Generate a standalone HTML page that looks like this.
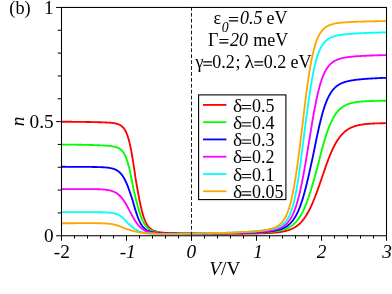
<!DOCTYPE html>
<html><head><meta charset="utf-8"><style>
html,body{margin:0;padding:0;background:#fff;}
svg{display:block;will-change:transform}
text{font-family:"Liberation Serif",serif;fill:#000;}
.t{font-size:18px}
.l{font-size:18px}
.a{font-size:19.3px}
.i{font-style:italic}
</style></head><body>
<svg width="392" height="294" viewBox="0 0 392 294">
<rect width="392" height="294" fill="#fff"/>
<g>
<polyline points="61.50,121.71 62.00,121.71 62.50,121.72 63.00,121.72 63.50,121.72 64.00,121.73 64.50,121.73 65.00,121.73 65.50,121.74 66.00,121.74 66.50,121.75 67.00,121.75 67.50,121.75 68.00,121.76 68.50,121.76 69.00,121.77 69.50,121.77 70.00,121.77 70.50,121.78 71.00,121.78 71.50,121.79 72.00,121.79 72.50,121.80 73.00,121.80 73.50,121.80 74.00,121.81 74.50,121.81 75.00,121.82 75.50,121.82 76.00,121.83 76.50,121.83 77.00,121.84 77.50,121.84 78.00,121.85 78.50,121.86 79.00,121.86 79.50,121.87 80.00,121.87 80.50,121.88 81.00,121.89 81.50,121.89 82.00,121.90 82.50,121.90 83.00,121.91 83.50,121.92 84.00,121.92 84.50,121.93 85.00,121.94 85.50,121.95 86.00,121.95 86.50,121.96 87.00,121.97 87.50,121.98 88.00,121.99 88.50,121.99 89.00,122.00 89.50,122.01 90.00,122.02 90.50,122.03 91.00,122.04 91.50,122.05 92.00,122.06 92.50,122.07 93.00,122.08 93.50,122.09 94.00,122.10 94.50,122.11 95.00,122.12 95.50,122.13 96.00,122.14 96.50,122.16 97.00,122.17 97.50,122.18 98.00,122.20 98.50,122.21 99.00,122.22 99.50,122.24 100.00,122.25 100.50,122.27 101.00,122.28 101.50,122.30 102.00,122.32 102.50,122.34 103.00,122.36 103.50,122.37 104.00,122.40 104.50,122.42 105.00,122.44 105.50,122.46 106.00,122.49 106.50,122.51 107.00,122.54 107.50,122.57 108.00,122.60 108.50,122.63 109.00,122.67 109.50,122.70 110.00,122.74 110.50,122.78 111.00,122.83 111.50,122.88 112.00,122.93 112.50,122.99 113.00,123.05 113.50,123.12 114.00,123.20 114.50,123.28 115.00,123.37 115.50,123.47 116.00,123.58 116.50,123.70 117.00,123.83 117.50,123.98 118.00,124.15 118.50,124.33 119.00,124.54 119.50,124.77 120.00,125.03 120.50,125.32 121.00,125.64 121.50,126.00 122.00,126.41 122.50,126.86 123.00,127.37 123.50,127.94 124.00,128.58 124.50,129.30 125.00,130.10 125.50,130.99 126.00,131.99 126.50,133.10 127.00,134.33 127.50,135.69 128.00,137.19 128.50,138.84 129.00,140.65 129.50,142.63 130.00,144.77 130.50,147.08 131.00,149.57 131.50,152.22 132.00,155.03 132.50,157.98 133.00,161.08 133.50,164.29 134.00,167.60 134.50,170.98 135.00,174.42 135.50,177.88 136.00,180.82 136.50,183.73 137.00,186.62 137.50,189.47 138.00,192.27 138.50,195.00 139.00,197.65 139.50,200.21 140.00,202.67 140.50,205.01 141.00,207.24 141.50,209.34 142.00,211.31 142.50,213.15 143.00,214.87 143.50,216.46 144.00,217.93 144.50,219.28 145.00,220.53 145.50,221.66 146.00,222.70 146.50,223.65 147.00,224.51 147.50,225.30 148.00,226.01 148.50,226.65 149.00,227.24 149.50,227.77 150.00,228.25 150.50,228.68 151.00,229.08 151.50,229.43 152.00,229.76 152.50,230.05 153.00,230.31 153.50,230.55 154.00,230.77 154.50,230.97 155.00,231.15 155.50,231.32 156.00,231.47 156.50,231.61 157.00,231.73 157.50,231.85 158.00,231.95 158.50,232.05 159.00,232.14 159.50,232.22 160.00,232.30 160.50,232.37 161.00,232.44 161.50,232.50 162.00,232.56 162.50,232.61 163.00,232.66 163.50,232.71 164.00,232.75 164.50,232.79 165.00,232.83 165.50,232.87 166.00,232.90 166.50,232.94 167.00,232.97 167.50,233.00 168.00,233.03 168.50,233.05 169.00,233.08 169.50,233.10 170.00,233.13 170.50,233.15 171.00,233.17 171.50,233.20 172.00,233.22 172.50,233.24 173.00,233.25 173.50,233.27 174.00,233.29 174.50,233.31 175.00,233.32 175.50,233.34 176.00,233.36 176.50,233.37 177.00,233.39 177.50,233.40 178.00,233.41 178.50,233.43 179.00,233.44 179.50,233.45 180.00,233.46 180.50,233.48 181.00,233.49 181.50,233.50 182.00,233.51 182.50,233.52 183.00,233.53 183.50,233.54 184.00,233.55 184.50,233.56 185.00,233.57 185.50,233.58 186.00,233.59 186.50,233.60 187.00,233.60 187.50,233.61 188.00,233.62 188.50,233.63 189.00,233.64 189.50,233.64 190.00,233.65 190.50,233.66 191.00,233.66 191.50,233.67 192.00,233.68 192.50,233.68 193.00,233.69 193.50,233.69 194.00,233.70 194.50,233.71 195.00,233.71 195.50,233.72 196.00,233.72 196.50,233.73 197.00,233.73 197.50,233.74 198.00,233.74 198.50,233.75 199.00,233.75 199.50,233.75 200.00,233.76 200.50,233.76 201.00,233.76 201.50,233.77 202.00,233.77 202.50,233.78 203.00,233.78 203.50,233.78 204.00,233.78 204.50,233.79 205.00,233.79 205.50,233.79 206.00,233.80 206.50,233.80 207.00,233.80 207.50,233.80 208.00,233.80 208.50,233.81 209.00,233.81 209.50,233.81 210.00,233.81 210.50,233.81 211.00,233.81 211.50,233.82 212.00,233.82 212.50,233.82 213.00,233.82 213.50,233.82 214.00,233.82 214.50,233.82 215.00,233.82 215.50,233.82 216.00,233.82 216.50,233.82 217.00,233.82 217.50,233.82 218.00,233.82 218.50,233.82 219.00,233.82 219.50,233.82 220.00,233.82 220.50,233.82 221.00,233.82 221.50,233.82 222.00,233.82 222.50,233.82 223.00,233.82 223.50,233.82 224.00,233.82 224.50,233.82 225.00,233.82 225.50,233.82 226.00,233.81 226.50,233.81 227.00,233.81 227.50,233.81 228.00,233.81 228.50,233.81 229.00,233.80 229.50,233.80 230.00,233.80 230.50,233.80 231.00,233.80 231.50,233.79 232.00,233.79 232.50,233.79 233.00,233.79 233.50,233.78 234.00,233.78 234.50,233.78 235.00,233.77 235.50,233.77 236.00,233.77 236.50,233.76 237.00,233.76 237.50,233.76 238.00,233.75 238.50,233.75 239.00,233.74 239.50,233.74 240.00,233.74 240.50,233.73 241.00,233.73 241.50,233.72 242.00,233.72 242.50,233.71 243.00,233.71 243.50,233.70 244.00,233.70 244.50,233.69 245.00,233.69 245.50,233.68 246.00,233.67 246.50,233.67 247.00,233.66 247.50,233.65 248.00,233.65 248.50,233.64 249.00,233.63 249.50,233.63 250.00,233.62 250.50,233.61 251.00,233.60 251.50,233.59 252.00,233.59 252.50,233.58 253.00,233.57 253.50,233.56 254.00,233.55 254.50,233.54 255.00,233.53 255.50,233.52 256.00,233.51 256.50,233.50 257.00,233.48 257.50,233.47 258.00,233.46 258.50,233.45 259.00,233.43 259.50,233.42 260.00,233.41 260.50,233.39 261.00,233.38 261.50,233.36 262.00,233.35 262.50,233.33 263.00,233.31 263.50,233.29 264.00,233.27 264.50,233.26 265.00,233.24 265.50,233.21 266.00,233.19 266.50,233.17 267.00,233.15 267.50,233.12 268.00,233.10 268.50,233.07 269.00,233.05 269.50,233.02 270.00,232.99 270.50,232.96 271.00,232.92 271.50,232.89 272.00,232.86 272.50,232.82 273.00,232.78 273.50,232.74 274.00,232.70 274.50,232.66 275.00,232.61 275.50,232.57 276.00,232.52 276.50,232.47 277.00,232.41 277.50,232.36 278.00,232.30 278.50,232.24 279.00,232.17 279.50,232.10 280.00,232.03 280.50,231.96 281.00,231.88 281.50,231.80 282.00,231.72 282.50,231.63 283.00,231.53 283.50,231.43 284.00,231.33 284.50,231.22 285.00,231.11 285.50,230.99 286.00,230.87 286.50,230.74 287.00,230.60 287.50,230.45 288.00,230.30 288.50,230.14 289.00,229.98 289.50,229.80 290.00,229.62 290.50,229.43 291.00,229.22 291.50,229.01 292.00,228.79 292.50,228.55 293.00,228.31 293.50,228.05 294.00,227.78 294.50,227.50 295.00,227.20 295.50,226.89 296.00,226.56 296.50,226.22 297.00,225.86 297.50,225.48 298.00,225.09 298.50,224.68 299.00,224.25 299.50,223.80 300.00,223.33 300.50,222.83 301.00,222.32 301.50,221.78 302.00,221.22 302.50,220.64 303.00,220.03 303.50,219.39 304.00,218.73 304.50,218.04 305.00,217.33 305.50,216.59 306.00,215.82 306.50,215.02 307.00,214.19 307.50,213.33 308.00,212.44 308.50,211.52 309.00,210.57 309.50,209.60 310.00,208.59 310.50,207.55 311.00,206.49 311.50,205.39 312.00,204.27 312.50,203.12 313.00,201.94 313.50,200.73 314.00,199.50 314.50,198.25 315.00,196.97 315.50,195.68 316.00,194.36 316.50,193.02 317.00,191.67 317.50,190.29 318.00,188.91 318.50,187.51 319.00,186.10 319.50,184.69 320.00,183.26 320.50,181.83 321.00,180.40 321.50,178.96 322.00,177.47 322.50,175.99 323.00,174.51 323.50,173.03 324.00,171.56 324.50,170.11 325.00,168.66 325.50,167.23 326.00,165.81 326.50,164.42 327.00,163.04 327.50,161.68 328.00,160.34 328.50,159.03 329.00,157.74 329.50,156.47 330.00,155.24 330.50,154.03 331.00,152.85 331.50,151.69 332.00,150.57 332.50,149.48 333.00,148.42 333.50,147.38 334.00,146.38 334.50,145.41 335.00,144.47 335.50,143.56 336.00,142.68 336.50,141.84 337.00,141.02 337.50,140.23 338.00,139.46 338.50,138.73 339.00,138.03 339.50,137.35 340.00,136.70 340.50,136.07 341.00,135.47 341.50,134.90 342.00,134.34 342.50,133.81 343.00,133.31 343.50,132.82 344.00,132.36 344.50,131.92 345.00,131.49 345.50,131.09 346.00,130.70 346.50,130.33 347.00,129.98 347.50,129.64 348.00,129.32 348.50,129.02 349.00,128.73 349.50,128.45 350.00,128.18 350.50,127.93 351.00,127.69 351.50,127.46 352.00,127.24 352.50,127.04 353.00,126.84 353.50,126.65 354.00,126.47 354.50,126.30 355.00,126.14 355.50,125.99 356.00,125.84 356.50,125.70 357.00,125.57 357.50,125.45 358.00,125.33 358.50,125.21 359.00,125.11 359.50,125.00 360.00,124.91 360.50,124.81 361.00,124.73 361.50,124.64 362.00,124.56 362.50,124.49 363.00,124.42 363.50,124.35 364.00,124.28 364.50,124.22 365.00,124.16 365.50,124.11 366.00,124.06 366.50,124.01 367.00,123.96 367.50,123.91 368.00,123.87 368.50,123.83 369.00,123.79 369.50,123.75 370.00,123.72 370.50,123.68 371.00,123.65 371.50,123.62 372.00,123.59 372.50,123.57 373.00,123.54 373.50,123.52 374.00,123.49 374.50,123.47 375.00,123.45 375.50,123.43 376.00,123.41 376.50,123.39 377.00,123.37 377.50,123.36 378.00,123.34 378.50,123.33 379.00,123.31 379.50,123.30 380.00,123.28 380.50,123.27 381.00,123.26 381.50,123.25 382.00,123.24 382.50,123.23 383.00,123.22 383.50,123.21 384.00,123.20 384.50,123.19 385.00,123.18 385.50,123.18 386.00,123.17 386.50,123.16" fill="none" stroke="#ff0000" stroke-width="1.85" stroke-linejoin="round"/>
<polyline points="61.50,144.54 62.00,144.54 62.50,144.55 63.00,144.55 63.50,144.56 64.00,144.56 64.50,144.57 65.00,144.57 65.50,144.58 66.00,144.58 66.50,144.59 67.00,144.59 67.50,144.60 68.00,144.60 68.50,144.61 69.00,144.61 69.50,144.62 70.00,144.62 70.50,144.63 71.00,144.64 71.50,144.64 72.00,144.65 72.50,144.66 73.00,144.66 73.50,144.67 74.00,144.68 74.50,144.68 75.00,144.69 75.50,144.70 76.00,144.70 76.50,144.71 77.00,144.72 77.50,144.73 78.00,144.73 78.50,144.74 79.00,144.75 79.50,144.76 80.00,144.77 80.50,144.77 81.00,144.78 81.50,144.79 82.00,144.80 82.50,144.81 83.00,144.82 83.50,144.83 84.00,144.84 84.50,144.85 85.00,144.86 85.50,144.87 86.00,144.88 86.50,144.89 87.00,144.90 87.50,144.92 88.00,144.93 88.50,144.94 89.00,144.95 89.50,144.96 90.00,144.98 90.50,144.99 91.00,145.00 91.50,145.02 92.00,145.03 92.50,145.04 93.00,145.06 93.50,145.07 94.00,145.09 94.50,145.11 95.00,145.12 95.50,145.14 96.00,145.16 96.50,145.17 97.00,145.19 97.50,145.21 98.00,145.23 98.50,145.25 99.00,145.27 99.50,145.29 100.00,145.31 100.50,145.34 101.00,145.36 101.50,145.38 102.00,145.41 102.50,145.43 103.00,145.46 103.50,145.49 104.00,145.52 104.50,145.55 105.00,145.58 105.50,145.61 106.00,145.65 106.50,145.68 107.00,145.72 107.50,145.76 108.00,145.81 108.50,145.85 109.00,145.90 109.50,145.95 110.00,146.01 110.50,146.07 111.00,146.13 111.50,146.20 112.00,146.27 112.50,146.35 113.00,146.43 113.50,146.53 114.00,146.63 114.50,146.74 115.00,146.86 115.50,146.99 116.00,147.14 116.50,147.30 117.00,147.48 117.50,147.67 118.00,147.89 118.50,148.13 119.00,148.40 119.50,148.70 120.00,149.04 120.50,149.41 121.00,149.83 121.50,150.29 122.00,150.81 122.50,151.38 123.00,152.02 123.50,152.74 124.00,153.53 124.50,154.41 125.00,155.38 125.50,156.46 126.00,157.64 126.50,158.94 127.00,160.36 127.50,161.90 128.00,163.58 128.50,165.38 129.00,167.32 129.50,169.38 130.00,171.56 130.50,173.86 131.00,176.25 131.50,178.74 132.00,181.29 132.50,183.90 133.00,186.55 133.50,189.19 134.00,191.29 134.50,193.38 135.00,195.46 135.50,197.52 136.00,199.54 136.50,201.53 137.00,203.48 137.50,205.37 138.00,207.20 138.50,208.97 139.00,210.66 139.50,212.28 140.00,213.82 140.50,215.28 141.00,216.66 141.50,217.95 142.00,219.16 142.50,220.29 143.00,221.34 143.50,222.32 144.00,223.22 144.50,224.06 145.00,224.83 145.50,225.54 146.00,226.19 146.50,226.79 147.00,227.34 147.50,227.84 148.00,228.30 148.50,228.73 149.00,229.11 149.50,229.47 150.00,229.79 150.50,230.08 151.00,230.35 151.50,230.60 152.00,230.82 152.50,231.03 153.00,231.22 153.50,231.39 154.00,231.54 154.50,231.69 155.00,231.82 155.50,231.94 156.00,232.05 156.50,232.15 157.00,232.24 157.50,232.33 158.00,232.41 158.50,232.48 159.00,232.55 159.50,232.61 160.00,232.67 160.50,232.72 161.00,232.77 161.50,232.82 162.00,232.86 162.50,232.90 163.00,232.94 163.50,232.97 164.00,233.00 164.50,233.03 165.00,233.06 165.50,233.09 166.00,233.11 166.50,233.13 167.00,233.16 167.50,233.18 168.00,233.20 168.50,233.21 169.00,233.23 169.50,233.25 170.00,233.26 170.50,233.28 171.00,233.29 171.50,233.31 172.00,233.32 172.50,233.33 173.00,233.34 173.50,233.35 174.00,233.37 174.50,233.38 175.00,233.39 175.50,233.39 176.00,233.40 176.50,233.41 177.00,233.42 177.50,233.43 178.00,233.44 178.50,233.44 179.00,233.45 179.50,233.46 180.00,233.46 180.50,233.47 181.00,233.47 181.50,233.48 182.00,233.49 182.50,233.49 183.00,233.49 183.50,233.50 184.00,233.50 184.50,233.51 185.00,233.51 185.50,233.52 186.00,233.52 186.50,233.52 187.00,233.53 187.50,233.53 188.00,233.53 188.50,233.54 189.00,233.54 189.50,233.54 190.00,233.54 190.50,233.55 191.00,233.55 191.50,233.55 192.00,233.55 192.50,233.55 193.00,233.55 193.50,233.56 194.00,233.56 194.50,233.56 195.00,233.56 195.50,233.56 196.00,233.56 196.50,233.56 197.00,233.56 197.50,233.56 198.00,233.56 198.50,233.56 199.00,233.56 199.50,233.56 200.00,233.56 200.50,233.56 201.00,233.56 201.50,233.56 202.00,233.56 202.50,233.56 203.00,233.56 203.50,233.56 204.00,233.56 204.50,233.55 205.00,233.55 205.50,233.55 206.00,233.55 206.50,233.55 207.00,233.55 207.50,233.55 208.00,233.54 208.50,233.54 209.00,233.54 209.50,233.54 210.00,233.53 210.50,233.53 211.00,233.53 211.50,233.53 212.00,233.52 212.50,233.52 213.00,233.52 213.50,233.52 214.00,233.51 214.50,233.51 215.00,233.51 215.50,233.50 216.00,233.50 216.50,233.49 217.00,233.49 217.50,233.49 218.00,233.48 218.50,233.48 219.00,233.47 219.50,233.47 220.00,233.47 220.50,233.46 221.00,233.46 221.50,233.45 222.00,233.45 222.50,233.44 223.00,233.44 223.50,233.43 224.00,233.43 224.50,233.42 225.00,233.42 225.50,233.41 226.00,233.40 226.50,233.40 227.00,233.39 227.50,233.39 228.00,233.38 228.50,233.37 229.00,233.37 229.50,233.36 230.00,233.35 230.50,233.35 231.00,233.34 231.50,233.33 232.00,233.33 232.50,233.32 233.00,233.31 233.50,233.30 234.00,233.30 234.50,233.29 235.00,233.28 235.50,233.27 236.00,233.26 236.50,233.26 237.00,233.25 237.50,233.24 238.00,233.23 238.50,233.22 239.00,233.21 239.50,233.20 240.00,233.19 240.50,233.18 241.00,233.17 241.50,233.16 242.00,233.15 242.50,233.14 243.00,233.13 243.50,233.12 244.00,233.11 244.50,233.10 245.00,233.09 245.50,233.07 246.00,233.06 246.50,233.05 247.00,233.04 247.50,233.02 248.00,233.01 248.50,233.00 249.00,232.98 249.50,232.97 250.00,232.96 250.50,232.94 251.00,232.93 251.50,232.91 252.00,232.90 252.50,232.88 253.00,232.86 253.50,232.85 254.00,232.83 254.50,232.81 255.00,232.80 255.50,232.78 256.00,232.76 256.50,232.74 257.00,232.72 257.50,232.70 258.00,232.68 258.50,232.66 259.00,232.64 259.50,232.61 260.00,232.59 260.50,232.57 261.00,232.54 261.50,232.52 262.00,232.49 262.50,232.47 263.00,232.44 263.50,232.41 264.00,232.38 264.50,232.35 265.00,232.32 265.50,232.29 266.00,232.25 266.50,232.22 267.00,232.18 267.50,232.15 268.00,232.11 268.50,232.07 269.00,232.03 269.50,231.98 270.00,231.94 270.50,231.89 271.00,231.84 271.50,231.79 272.00,231.74 272.50,231.69 273.00,231.63 273.50,231.57 274.00,231.51 274.50,231.44 275.00,231.38 275.50,231.31 276.00,231.23 276.50,231.16 277.00,231.08 277.50,230.99 278.00,230.90 278.50,230.81 279.00,230.72 279.50,230.62 280.00,230.51 280.50,230.40 281.00,230.28 281.50,230.16 282.00,230.03 282.50,229.89 283.00,229.75 283.50,229.60 284.00,229.45 284.50,229.28 285.00,229.11 285.50,228.93 286.00,228.73 286.50,228.53 287.00,228.32 287.50,228.10 288.00,227.86 288.50,227.61 289.00,227.35 289.50,227.08 290.00,226.79 290.50,226.49 291.00,226.17 291.50,225.83 292.00,225.48 292.50,225.10 293.00,224.71 293.50,224.30 294.00,223.87 294.50,223.41 295.00,222.93 295.50,222.43 296.00,221.90 296.50,221.34 297.00,220.76 297.50,220.14 298.00,219.50 298.50,218.83 299.00,218.12 299.50,217.39 300.00,216.61 300.50,215.81 301.00,214.96 301.50,214.08 302.00,213.16 302.50,212.21 303.00,211.21 303.50,210.17 304.00,209.09 304.50,207.98 305.00,206.82 305.50,205.62 306.00,204.38 306.50,203.09 307.00,201.77 307.50,200.41 308.00,199.00 308.50,197.56 309.00,196.08 309.50,194.57 310.00,193.02 310.50,191.44 311.00,189.83 311.50,188.18 312.00,186.51 312.50,184.82 313.00,183.10 313.50,181.36 314.00,179.60 314.50,177.83 315.00,176.04 315.50,174.25 316.00,172.44 316.50,170.62 317.00,168.81 317.50,166.93 318.00,164.92 318.50,162.92 319.00,160.93 319.50,158.95 320.00,156.98 320.50,155.04 321.00,153.11 321.50,151.21 322.00,149.33 322.50,147.49 323.00,145.68 323.50,143.90 324.00,142.16 324.50,140.46 325.00,138.80 325.50,137.18 326.00,135.60 326.50,134.07 327.00,132.59 327.50,131.15 328.00,129.76 328.50,128.41 329.00,127.12 329.50,125.86 330.00,124.66 330.50,123.50 331.00,122.39 331.50,121.32 332.00,120.30 332.50,119.32 333.00,118.38 333.50,117.49 334.00,116.63 334.50,115.81 335.00,115.03 335.50,114.29 336.00,113.58 336.50,112.91 337.00,112.27 337.50,111.66 338.00,111.08 338.50,110.53 339.00,110.01 339.50,109.52 340.00,109.05 340.50,108.60 341.00,108.18 341.50,107.78 342.00,107.40 342.50,107.05 343.00,106.71 343.50,106.39 344.00,106.08 344.50,105.79 345.00,105.52 345.50,105.27 346.00,105.02 346.50,104.79 347.00,104.57 347.50,104.37 348.00,104.17 348.50,103.99 349.00,103.82 349.50,103.65 350.00,103.50 350.50,103.35 351.00,103.21 351.50,103.08 352.00,102.96 352.50,102.84 353.00,102.73 353.50,102.63 354.00,102.53 354.50,102.43 355.00,102.34 355.50,102.26 356.00,102.18 356.50,102.11 357.00,102.03 357.50,101.97 358.00,101.90 358.50,101.84 359.00,101.79 359.50,101.73 360.00,101.68 360.50,101.63 361.00,101.59 361.50,101.54 362.00,101.50 362.50,101.46 363.00,101.42 363.50,101.39 364.00,101.35 364.50,101.32 365.00,101.29 365.50,101.26 366.00,101.23 366.50,101.21 367.00,101.18 367.50,101.16 368.00,101.13 368.50,101.11 369.00,101.09 369.50,101.07 370.00,101.05 370.50,101.03 371.00,101.02 371.50,101.00 372.00,100.98 372.50,100.97 373.00,100.95 373.50,100.94 374.00,100.93 374.50,100.91 375.00,100.90 375.50,100.89 376.00,100.88 376.50,100.87 377.00,100.86 377.50,100.85 378.00,100.84 378.50,100.83 379.00,100.82 379.50,100.81 380.00,100.80 380.50,100.79 381.00,100.78 381.50,100.78 382.00,100.77 382.50,100.76 383.00,100.75 383.50,100.75 384.00,100.74 384.50,100.73 385.00,100.73 385.50,100.72 386.00,100.71 386.50,100.71" fill="none" stroke="#00ff00" stroke-width="1.85" stroke-linejoin="round"/>
<polyline points="61.50,166.79 62.00,166.79 62.50,166.79 63.00,166.79 63.50,166.79 64.00,166.79 64.50,166.79 65.00,166.79 65.50,166.80 66.00,166.80 66.50,166.80 67.00,166.80 67.50,166.80 68.00,166.80 68.50,166.80 69.00,166.80 69.50,166.81 70.00,166.81 70.50,166.81 71.00,166.81 71.50,166.81 72.00,166.81 72.50,166.82 73.00,166.82 73.50,166.82 74.00,166.82 74.50,166.82 75.00,166.82 75.50,166.83 76.00,166.83 76.50,166.83 77.00,166.83 77.50,166.84 78.00,166.84 78.50,166.84 79.00,166.84 79.50,166.84 80.00,166.85 80.50,166.85 81.00,166.85 81.50,166.86 82.00,166.86 82.50,166.86 83.00,166.86 83.50,166.87 84.00,166.87 84.50,166.87 85.00,166.88 85.50,166.88 86.00,166.89 86.50,166.89 87.00,166.89 87.50,166.90 88.00,166.90 88.50,166.91 89.00,166.91 89.50,166.92 90.00,166.92 90.50,166.93 91.00,166.93 91.50,166.94 92.00,166.95 92.50,166.95 93.00,166.96 93.50,166.97 94.00,166.98 94.50,166.99 95.00,166.99 95.50,167.00 96.00,167.01 96.50,167.03 97.00,167.04 97.50,167.05 98.00,167.06 98.50,167.08 99.00,167.09 99.50,167.11 100.00,167.12 100.50,167.14 101.00,167.16 101.50,167.18 102.00,167.21 102.50,167.23 103.00,167.26 103.50,167.29 104.00,167.32 104.50,167.35 105.00,167.39 105.50,167.43 106.00,167.47 106.50,167.52 107.00,167.57 107.50,167.63 108.00,167.69 108.50,167.75 109.00,167.83 109.50,167.90 110.00,167.99 110.50,168.08 111.00,168.18 111.50,168.29 112.00,168.41 112.50,168.55 113.00,168.69 113.50,168.85 114.00,169.02 114.50,169.20 115.00,169.41 115.50,169.63 116.00,169.87 116.50,170.13 117.00,170.42 117.50,170.73 118.00,171.07 118.50,171.44 119.00,171.84 119.50,172.28 120.00,172.75 120.50,173.26 121.00,173.81 121.50,174.41 122.00,175.05 122.50,175.74 123.00,176.48 123.50,177.27 124.00,178.11 124.50,179.01 125.00,179.97 125.50,180.98 126.00,182.05 126.50,183.18 127.00,184.36 127.50,185.59 128.00,186.88 128.50,188.21 129.00,189.58 129.50,191.00 130.00,192.45 130.50,193.92 131.00,195.43 131.50,196.95 132.00,198.48 132.50,200.02 133.00,201.73 133.50,203.49 134.00,205.24 134.50,206.95 135.00,208.64 135.50,210.27 136.00,211.86 136.50,213.39 137.00,214.85 137.50,216.25 138.00,217.58 138.50,218.83 139.00,220.00 139.50,221.11 140.00,222.13 140.50,223.09 141.00,223.97 141.50,224.78 142.00,225.53 142.50,226.22 143.00,226.85 143.50,227.43 144.00,227.95 144.50,228.43 145.00,228.87 145.50,229.26 146.00,229.62 146.50,229.95 147.00,230.25 147.50,230.52 148.00,230.76 148.50,230.98 149.00,231.18 149.50,231.37 150.00,231.53 150.50,231.68 151.00,231.82 151.50,231.94 152.00,232.06 152.50,232.16 153.00,232.25 153.50,232.34 154.00,232.42 154.50,232.49 155.00,232.56 155.50,232.62 156.00,232.67 156.50,232.72 157.00,232.77 157.50,232.81 158.00,232.86 158.50,232.89 159.00,232.93 159.50,232.96 160.00,232.99 160.50,233.02 161.00,233.05 161.50,233.07 162.00,233.09 162.50,233.11 163.00,233.14 163.50,233.15 164.00,233.17 164.50,233.19 165.00,233.21 165.50,233.22 166.00,233.24 166.50,233.25 167.00,233.26 167.50,233.28 168.00,233.29 168.50,233.30 169.00,233.31 169.50,233.32 170.00,233.33 170.50,233.34 171.00,233.35 171.50,233.36 172.00,233.37 172.50,233.38 173.00,233.38 173.50,233.39 174.00,233.40 174.50,233.40 175.00,233.41 175.50,233.42 176.00,233.42 176.50,233.43 177.00,233.43 177.50,233.44 178.00,233.44 178.50,233.45 179.00,233.45 179.50,233.46 180.00,233.46 180.50,233.47 181.00,233.47 181.50,233.47 182.00,233.48 182.50,233.48 183.00,233.48 183.50,233.49 184.00,233.49 184.50,233.49 185.00,233.49 185.50,233.49 186.00,233.50 186.50,233.50 187.00,233.50 187.50,233.50 188.00,233.50 188.50,233.50 189.00,233.51 189.50,233.51 190.00,233.51 190.50,233.51 191.00,233.51 191.50,233.51 192.00,233.51 192.50,233.51 193.00,233.51 193.50,233.51 194.00,233.51 194.50,233.51 195.00,233.51 195.50,233.51 196.00,233.51 196.50,233.51 197.00,233.51 197.50,233.50 198.00,233.50 198.50,233.50 199.00,233.50 199.50,233.50 200.00,233.50 200.50,233.50 201.00,233.49 201.50,233.49 202.00,233.49 202.50,233.49 203.00,233.49 203.50,233.48 204.00,233.48 204.50,233.48 205.00,233.48 205.50,233.47 206.00,233.47 206.50,233.47 207.00,233.46 207.50,233.46 208.00,233.46 208.50,233.45 209.00,233.45 209.50,233.45 210.00,233.44 210.50,233.44 211.00,233.43 211.50,233.43 212.00,233.43 212.50,233.42 213.00,233.42 213.50,233.41 214.00,233.41 214.50,233.40 215.00,233.40 215.50,233.39 216.00,233.39 216.50,233.38 217.00,233.38 217.50,233.37 218.00,233.37 218.50,233.36 219.00,233.36 219.50,233.35 220.00,233.34 220.50,233.34 221.00,233.33 221.50,233.33 222.00,233.32 222.50,233.31 223.00,233.31 223.50,233.30 224.00,233.29 224.50,233.28 225.00,233.28 225.50,233.27 226.00,233.26 226.50,233.25 227.00,233.25 227.50,233.24 228.00,233.23 228.50,233.22 229.00,233.21 229.50,233.21 230.00,233.20 230.50,233.19 231.00,233.18 231.50,233.17 232.00,233.16 232.50,233.15 233.00,233.14 233.50,233.13 234.00,233.12 234.50,233.11 235.00,233.10 235.50,233.09 236.00,233.08 236.50,233.07 237.00,233.06 237.50,233.05 238.00,233.04 238.50,233.03 239.00,233.01 239.50,233.00 240.00,232.99 240.50,232.98 241.00,232.97 241.50,232.95 242.00,232.94 242.50,232.93 243.00,232.91 243.50,232.90 244.00,232.89 244.50,232.87 245.00,232.86 245.50,232.84 246.00,232.83 246.50,232.81 247.00,232.80 247.50,232.78 248.00,232.76 248.50,232.75 249.00,232.73 249.50,232.71 250.00,232.70 250.50,232.68 251.00,232.66 251.50,232.64 252.00,232.62 252.50,232.60 253.00,232.58 253.50,232.56 254.00,232.54 254.50,232.52 255.00,232.49 255.50,232.47 256.00,232.45 256.50,232.42 257.00,232.40 257.50,232.37 258.00,232.35 258.50,232.32 259.00,232.29 259.50,232.26 260.00,232.24 260.50,232.21 261.00,232.17 261.50,232.14 262.00,232.11 262.50,232.08 263.00,232.04 263.50,232.00 264.00,231.97 264.50,231.93 265.00,231.89 265.50,231.84 266.00,231.80 266.50,231.76 267.00,231.71 267.50,231.66 268.00,231.61 268.50,231.56 269.00,231.50 269.50,231.45 270.00,231.39 270.50,231.32 271.00,231.26 271.50,231.19 272.00,231.12 272.50,231.05 273.00,230.97 273.50,230.89 274.00,230.80 274.50,230.72 275.00,230.62 275.50,230.53 276.00,230.42 276.50,230.31 277.00,230.20 277.50,230.08 278.00,229.96 278.50,229.82 279.00,229.69 279.50,229.54 280.00,229.38 280.50,229.22 281.00,229.05 281.50,228.87 282.00,228.68 282.50,228.48 283.00,228.26 283.50,228.04 284.00,227.80 284.50,227.55 285.00,227.28 285.50,227.00 286.00,226.71 286.50,226.39 287.00,226.06 287.50,225.71 288.00,225.34 288.50,224.94 289.00,224.53 289.50,224.09 290.00,223.63 290.50,223.14 291.00,222.62 291.50,222.07 292.00,221.49 292.50,220.88 293.00,220.23 293.50,219.55 294.00,218.83 294.50,218.07 295.00,217.27 295.50,216.43 296.00,215.55 296.50,214.62 297.00,213.64 297.50,212.61 298.00,211.53 298.50,210.40 299.00,209.21 299.50,207.98 300.00,206.68 300.50,205.33 301.00,203.92 301.50,202.46 302.00,200.93 302.50,199.35 303.00,197.71 303.50,196.02 304.00,194.27 304.50,192.46 305.00,190.60 305.50,188.69 306.00,186.73 306.50,184.73 307.00,182.68 307.50,180.59 308.00,178.46 308.50,176.30 309.00,174.11 309.50,171.89 310.00,169.65 310.50,167.38 311.00,165.10 311.50,162.81 312.00,160.50 312.50,158.19 313.00,155.87 313.50,153.45 314.00,150.96 314.50,148.48 315.00,146.02 315.50,143.57 316.00,141.14 316.50,138.73 317.00,136.36 317.50,134.02 318.00,131.71 318.50,129.45 319.00,127.24 319.50,125.08 320.00,122.97 320.50,120.92 321.00,118.93 321.50,117.00 322.00,115.14 322.50,113.34 323.00,111.60 323.50,109.94 324.00,108.34 324.50,106.81 325.00,105.34 325.50,103.95 326.00,102.61 326.50,101.35 327.00,100.14 327.50,98.99 328.00,97.90 328.50,96.87 329.00,95.89 329.50,94.97 330.00,94.09 330.50,93.27 331.00,92.49 331.50,91.75 332.00,91.05 332.50,90.40 333.00,89.78 333.50,89.19 334.00,88.64 334.50,88.12 335.00,87.63 335.50,87.17 336.00,86.74 336.50,86.33 337.00,85.94 337.50,85.57 338.00,85.23 338.50,84.91 339.00,84.60 339.50,84.31 340.00,84.04 340.50,83.78 341.00,83.53 341.50,83.30 342.00,83.08 342.50,82.88 343.00,82.68 343.50,82.49 344.00,82.32 344.50,82.15 345.00,81.99 345.50,81.84 346.00,81.69 346.50,81.55 347.00,81.42 347.50,81.30 348.00,81.18 348.50,81.06 349.00,80.96 349.50,80.85 350.00,80.75 350.50,80.66 351.00,80.56 351.50,80.48 352.00,80.39 352.50,80.31 353.00,80.23 353.50,80.15 354.00,80.08 354.50,80.01 355.00,79.94 355.50,79.88 356.00,79.81 356.50,79.75 357.00,79.69 357.50,79.64 358.00,79.58 358.50,79.53 359.00,79.47 359.50,79.42 360.00,79.37 360.50,79.32 361.00,79.28 361.50,79.23 362.00,79.19 362.50,79.14 363.00,79.10 363.50,79.06 364.00,79.02 364.50,78.98 365.00,78.94 365.50,78.90 366.00,78.86 366.50,78.83 367.00,78.79 367.50,78.76 368.00,78.72 368.50,78.69 369.00,78.66 369.50,78.62 370.00,78.59 370.50,78.56 371.00,78.53 371.50,78.50 372.00,78.47 372.50,78.44 373.00,78.41 373.50,78.39 374.00,78.36 374.50,78.33 375.00,78.31 375.50,78.28 376.00,78.25 376.50,78.23 377.00,78.20 377.50,78.18 378.00,78.15 378.50,78.13 379.00,78.11 379.50,78.08 380.00,78.06 380.50,78.04 381.00,78.02 381.50,77.99 382.00,77.97 382.50,77.95 383.00,77.93 383.50,77.91 384.00,77.89 384.50,77.87 385.00,77.85 385.50,77.83 386.00,77.81 386.50,77.79" fill="none" stroke="#0000ff" stroke-width="1.85" stroke-linejoin="round"/>
<polyline points="61.50,189.16 62.00,189.16 62.50,189.16 63.00,189.16 63.50,189.16 64.00,189.15 64.50,189.15 65.00,189.15 65.50,189.15 66.00,189.15 66.50,189.15 67.00,189.14 67.50,189.14 68.00,189.14 68.50,189.14 69.00,189.14 69.50,189.14 70.00,189.14 70.50,189.13 71.00,189.13 71.50,189.13 72.00,189.13 72.50,189.13 73.00,189.13 73.50,189.13 74.00,189.12 74.50,189.12 75.00,189.12 75.50,189.12 76.00,189.12 76.50,189.12 77.00,189.12 77.50,189.12 78.00,189.11 78.50,189.11 79.00,189.11 79.50,189.11 80.00,189.11 80.50,189.11 81.00,189.11 81.50,189.11 82.00,189.11 82.50,189.11 83.00,189.11 83.50,189.11 84.00,189.11 84.50,189.11 85.00,189.11 85.50,189.11 86.00,189.11 86.50,189.11 87.00,189.11 87.50,189.11 88.00,189.11 88.50,189.11 89.00,189.11 89.50,189.11 90.00,189.12 90.50,189.12 91.00,189.12 91.50,189.13 92.00,189.13 92.50,189.14 93.00,189.14 93.50,189.15 94.00,189.15 94.50,189.16 95.00,189.17 95.50,189.18 96.00,189.19 96.50,189.20 97.00,189.21 97.50,189.22 98.00,189.24 98.50,189.25 99.00,189.27 99.50,189.29 100.00,189.31 100.50,189.33 101.00,189.35 101.50,189.38 102.00,189.41 102.50,189.44 103.00,189.48 103.50,189.52 104.00,189.56 104.50,189.61 105.00,189.66 105.50,189.71 106.00,189.77 106.50,189.83 107.00,189.90 107.50,189.98 108.00,190.06 108.50,190.15 109.00,190.25 109.50,190.36 110.00,190.47 110.50,190.59 111.00,190.73 111.50,190.87 112.00,191.03 112.50,191.20 113.00,191.39 113.50,191.59 114.00,191.80 114.50,192.03 115.00,192.28 115.50,192.55 116.00,192.83 116.50,193.14 117.00,193.47 117.50,193.83 118.00,194.20 118.50,194.61 119.00,195.04 119.50,195.50 120.00,195.98 120.50,196.50 121.00,197.04 121.50,197.62 122.00,198.23 122.50,198.87 123.00,199.54 123.50,200.24 124.00,200.97 124.50,201.73 125.00,202.52 125.50,203.34 126.00,204.18 126.50,205.05 127.00,205.94 127.50,206.85 128.00,207.77 128.50,208.71 129.00,209.66 129.50,210.61 130.00,211.57 130.50,212.52 131.00,213.46 131.50,214.40 132.00,215.33 132.50,216.24 133.00,217.14 133.50,218.02 134.00,218.88 134.50,219.72 135.00,220.53 135.50,221.32 136.00,222.07 136.50,222.80 137.00,223.49 137.50,224.16 138.00,224.79 138.50,225.39 139.00,225.96 139.50,226.49 140.00,227.00 140.50,227.47 141.00,227.92 141.50,228.34 142.00,228.73 142.50,229.10 143.00,229.44 143.50,229.75 144.00,230.05 144.50,230.32 145.00,230.58 145.50,230.81 146.00,231.03 146.50,231.24 147.00,231.42 147.50,231.60 148.00,231.76 148.50,231.90 149.00,232.04 149.50,232.17 150.00,232.28 150.50,232.39 151.00,232.49 151.50,232.58 152.00,232.66 152.50,232.74 153.00,232.81 153.50,232.88 154.00,232.94 154.50,232.99 155.00,233.04 155.50,233.09 156.00,233.14 156.50,233.18 157.00,233.21 157.50,233.25 158.00,233.28 158.50,233.31 159.00,233.34 159.50,233.36 160.00,233.38 160.50,233.41 161.00,233.42 161.50,233.44 162.00,233.46 162.50,233.48 163.00,233.49 163.50,233.50 164.00,233.51 164.50,233.53 165.00,233.54 165.50,233.55 166.00,233.55 166.50,233.56 167.00,233.57 167.50,233.58 168.00,233.58 168.50,233.59 169.00,233.59 169.50,233.60 170.00,233.60 170.50,233.61 171.00,233.61 171.50,233.61 172.00,233.62 172.50,233.62 173.00,233.62 173.50,233.62 174.00,233.62 174.50,233.63 175.00,233.63 175.50,233.63 176.00,233.63 176.50,233.63 177.00,233.63 177.50,233.63 178.00,233.63 178.50,233.63 179.00,233.63 179.50,233.63 180.00,233.63 180.50,233.63 181.00,233.63 181.50,233.62 182.00,233.62 182.50,233.62 183.00,233.62 183.50,233.62 184.00,233.62 184.50,233.61 185.00,233.61 185.50,233.61 186.00,233.61 186.50,233.61 187.00,233.60 187.50,233.60 188.00,233.60 188.50,233.59 189.00,233.59 189.50,233.59 190.00,233.59 190.50,233.58 191.00,233.58 191.50,233.58 192.00,233.57 192.50,233.57 193.00,233.56 193.50,233.56 194.00,233.56 194.50,233.55 195.00,233.55 195.50,233.54 196.00,233.54 196.50,233.54 197.00,233.53 197.50,233.53 198.00,233.52 198.50,233.52 199.00,233.51 199.50,233.51 200.00,233.50 200.50,233.50 201.00,233.49 201.50,233.49 202.00,233.48 202.50,233.47 203.00,233.47 203.50,233.46 204.00,233.46 204.50,233.45 205.00,233.44 205.50,233.44 206.00,233.43 206.50,233.43 207.00,233.42 207.50,233.41 208.00,233.41 208.50,233.40 209.00,233.39 209.50,233.39 210.00,233.38 210.50,233.37 211.00,233.36 211.50,233.36 212.00,233.35 212.50,233.34 213.00,233.33 213.50,233.32 214.00,233.32 214.50,233.31 215.00,233.30 215.50,233.29 216.00,233.28 216.50,233.28 217.00,233.27 217.50,233.26 218.00,233.25 218.50,233.24 219.00,233.23 219.50,233.22 220.00,233.21 220.50,233.20 221.00,233.19 221.50,233.18 222.00,233.17 222.50,233.16 223.00,233.15 223.50,233.14 224.00,233.13 224.50,233.12 225.00,233.11 225.50,233.10 226.00,233.09 226.50,233.07 227.00,233.06 227.50,233.05 228.00,233.04 228.50,233.03 229.00,233.02 229.50,233.00 230.00,232.99 230.50,232.98 231.00,232.97 231.50,232.95 232.00,232.94 232.50,232.93 233.00,232.91 233.50,232.90 234.00,232.88 234.50,232.87 235.00,232.86 235.50,232.84 236.00,232.83 236.50,232.81 237.00,232.80 237.50,232.78 238.00,232.76 238.50,232.75 239.00,232.73 239.50,232.72 240.00,232.70 240.50,232.68 241.00,232.66 241.50,232.65 242.00,232.63 242.50,232.61 243.00,232.59 243.50,232.57 244.00,232.55 244.50,232.54 245.00,232.52 245.50,232.50 246.00,232.47 246.50,232.45 247.00,232.43 247.50,232.41 248.00,232.39 248.50,232.37 249.00,232.34 249.50,232.32 250.00,232.30 250.50,232.27 251.00,232.25 251.50,232.22 252.00,232.20 252.50,232.17 253.00,232.15 253.50,232.12 254.00,232.09 254.50,232.06 255.00,232.03 255.50,232.01 256.00,231.97 256.50,231.94 257.00,231.91 257.50,231.88 258.00,231.85 258.50,231.81 259.00,231.78 259.50,231.74 260.00,231.70 260.50,231.67 261.00,231.63 261.50,231.59 262.00,231.54 262.50,231.50 263.00,231.46 263.50,231.41 264.00,231.36 264.50,231.31 265.00,231.26 265.50,231.21 266.00,231.16 266.50,231.10 267.00,231.04 267.50,230.98 268.00,230.92 268.50,230.85 269.00,230.78 269.50,230.71 270.00,230.64 270.50,230.56 271.00,230.48 271.50,230.39 272.00,230.30 272.50,230.21 273.00,230.11 273.50,230.01 274.00,229.90 274.50,229.79 275.00,229.67 275.50,229.54 276.00,229.41 276.50,229.27 277.00,229.12 277.50,228.96 278.00,228.79 278.50,228.62 279.00,228.43 279.50,228.23 280.00,228.03 280.50,227.80 281.00,227.57 281.50,227.32 282.00,227.05 282.50,226.77 283.00,226.47 283.50,226.15 284.00,225.81 284.50,225.45 285.00,225.06 285.50,224.65 286.00,224.21 286.50,223.74 287.00,223.25 287.50,222.72 288.00,222.15 288.50,221.55 289.00,220.91 289.50,220.23 290.00,219.50 290.50,218.73 291.00,217.90 291.50,217.03 292.00,216.10 292.50,215.11 293.00,214.06 293.50,212.95 294.00,211.77 294.50,210.52 295.00,209.20 295.50,207.80 296.00,206.33 296.50,204.77 297.00,203.14 297.50,201.42 298.00,199.62 298.50,197.73 299.00,195.75 299.50,193.69 300.00,191.55 300.50,189.32 301.00,187.01 301.50,184.62 302.00,182.15 302.50,179.61 303.00,176.99 303.50,174.32 304.00,171.58 304.50,168.79 305.00,165.95 305.50,163.07 306.00,160.15 306.50,157.20 307.00,154.22 307.50,151.22 308.00,148.22 308.50,145.20 309.00,142.11 309.50,138.99 310.00,135.87 310.50,132.78 311.00,129.71 311.50,126.67 312.00,123.67 312.50,120.71 313.00,117.81 313.50,114.96 314.00,112.18 314.50,109.46 315.00,106.81 315.50,104.25 316.00,101.76 316.50,99.36 317.00,97.05 317.50,94.82 318.00,92.69 318.50,90.65 319.00,88.69 319.50,86.83 320.00,85.05 320.50,83.37 321.00,81.77 321.50,80.25 322.00,78.82 322.50,77.46 323.00,76.18 323.50,74.97 324.00,73.83 324.50,72.76 325.00,71.75 325.50,70.81 326.00,69.92 326.50,69.08 327.00,68.30 327.50,67.56 328.00,66.88 328.50,66.23 329.00,65.62 329.50,65.06 330.00,64.53 330.50,64.03 331.00,63.56 331.50,63.12 332.00,62.71 332.50,62.33 333.00,61.97 333.50,61.63 334.00,61.32 334.50,61.02 335.00,60.74 335.50,60.48 336.00,60.23 336.50,60.00 337.00,59.79 337.50,59.58 338.00,59.39 338.50,59.21 339.00,59.04 339.50,58.88 340.00,58.72 340.50,58.58 341.00,58.44 341.50,58.31 342.00,58.19 342.50,58.08 343.00,57.97 343.50,57.86 344.00,57.77 344.50,57.67 345.00,57.58 345.50,57.50 346.00,57.41 346.50,57.34 347.00,57.26 347.50,57.19 348.00,57.12 348.50,57.06 349.00,57.00 349.50,56.94 350.00,56.88 350.50,56.82 351.00,56.77 351.50,56.72 352.00,56.67 352.50,56.62 353.00,56.57 353.50,56.53 354.00,56.49 354.50,56.45 355.00,56.40 355.50,56.37 356.00,56.33 356.50,56.29 357.00,56.25 357.50,56.22 358.00,56.18 358.50,56.15 359.00,56.12 359.50,56.09 360.00,56.06 360.50,56.03 361.00,56.00 361.50,55.97 362.00,55.94 362.50,55.91 363.00,55.89 363.50,55.86 364.00,55.83 364.50,55.81 365.00,55.78 365.50,55.76 366.00,55.74 366.50,55.71 367.00,55.69 367.50,55.67 368.00,55.65 368.50,55.62 369.00,55.60 369.50,55.58 370.00,55.56 370.50,55.54 371.00,55.52 371.50,55.50 372.00,55.48 372.50,55.46 373.00,55.44 373.50,55.43 374.00,55.41 374.50,55.39 375.00,55.37 375.50,55.36 376.00,55.34 376.50,55.32 377.00,55.31 377.50,55.29 378.00,55.27 378.50,55.26 379.00,55.24 379.50,55.23 380.00,55.21 380.50,55.20 381.00,55.18 381.50,55.17 382.00,55.15 382.50,55.14 383.00,55.12 383.50,55.11 384.00,55.10 384.50,55.08 385.00,55.07 385.50,55.06 386.00,55.04 386.50,55.03" fill="none" stroke="#ff00ff" stroke-width="1.85" stroke-linejoin="round"/>
<polyline points="61.50,212.06 62.00,212.06 62.50,212.06 63.00,212.06 63.50,212.06 64.00,212.06 64.50,212.06 65.00,212.06 65.50,212.06 66.00,212.06 66.50,212.06 67.00,212.06 67.50,212.06 68.00,212.06 68.50,212.06 69.00,212.06 69.50,212.06 70.00,212.06 70.50,212.06 71.00,212.06 71.50,212.06 72.00,212.06 72.50,212.06 73.00,212.06 73.50,212.06 74.00,212.06 74.50,212.07 75.00,212.07 75.50,212.07 76.00,212.07 76.50,212.07 77.00,212.07 77.50,212.07 78.00,212.07 78.50,212.07 79.00,212.07 79.50,212.07 80.00,212.07 80.50,212.08 81.00,212.08 81.50,212.08 82.00,212.08 82.50,212.08 83.00,212.08 83.50,212.08 84.00,212.09 84.50,212.09 85.00,212.09 85.50,212.09 86.00,212.09 86.50,212.10 87.00,212.10 87.50,212.10 88.00,212.10 88.50,212.10 89.00,212.11 89.50,212.11 90.00,212.11 90.50,212.12 91.00,212.12 91.50,212.12 92.00,212.13 92.50,212.13 93.00,212.13 93.50,212.14 94.00,212.14 94.50,212.15 95.00,212.15 95.50,212.16 96.00,212.16 96.50,212.17 97.00,212.17 97.50,212.18 98.00,212.19 98.50,212.20 99.00,212.20 99.50,212.21 100.00,212.22 100.50,212.23 101.00,212.24 101.50,212.25 102.00,212.27 102.50,212.28 103.00,212.29 103.50,212.31 104.00,212.33 104.50,212.35 105.00,212.37 105.50,212.39 106.00,212.41 106.50,212.44 107.00,212.47 107.50,212.50 108.00,212.53 108.50,212.57 109.00,212.61 109.50,212.66 110.00,212.71 110.50,212.77 111.00,212.83 111.50,212.89 112.00,212.97 112.50,213.05 113.00,213.14 113.50,213.24 114.00,213.35 114.50,213.46 115.00,213.59 115.50,213.74 116.00,213.89 116.50,214.06 117.00,214.25 117.50,214.46 118.00,214.68 118.50,214.92 119.00,215.18 119.50,215.47 120.00,215.77 120.50,216.10 121.00,216.45 121.50,216.83 122.00,217.22 122.50,217.65 123.00,218.09 123.50,218.56 124.00,219.05 124.50,219.55 125.00,220.08 125.50,220.62 126.00,221.17 126.50,221.73 127.00,222.29 127.50,222.86 128.00,223.32 128.50,223.77 129.00,224.23 129.50,224.67 130.00,225.11 130.50,225.55 131.00,225.98 131.50,226.39 132.00,226.80 132.50,227.19 133.00,227.58 133.50,227.95 134.00,228.30 134.50,228.65 135.00,228.98 135.50,229.29 136.00,229.59 136.50,229.88 137.00,230.15 137.50,230.41 138.00,230.65 138.50,230.88 139.00,231.10 139.50,231.31 140.00,231.50 140.50,231.68 141.00,231.85 141.50,232.01 142.00,232.16 142.50,232.30 143.00,232.43 143.50,232.55 144.00,232.66 144.50,232.76 145.00,232.86 145.50,232.95 146.00,233.03 146.50,233.11 147.00,233.18 147.50,233.25 148.00,233.31 148.50,233.36 149.00,233.42 149.50,233.46 150.00,233.51 150.50,233.55 151.00,233.58 151.50,233.62 152.00,233.65 152.50,233.68 153.00,233.70 153.50,233.73 154.00,233.75 154.50,233.77 155.00,233.78 155.50,233.80 156.00,233.81 156.50,233.83 157.00,233.84 157.50,233.85 158.00,233.86 158.50,233.86 159.00,233.87 159.50,233.88 160.00,233.88 160.50,233.89 161.00,233.89 161.50,233.89 162.00,233.89 162.50,233.90 163.00,233.90 163.50,233.90 164.00,233.90 164.50,233.90 165.00,233.89 165.50,233.89 166.00,233.89 166.50,233.89 167.00,233.89 167.50,233.88 168.00,233.88 168.50,233.88 169.00,233.88 169.50,233.87 170.00,233.87 170.50,233.86 171.00,233.86 171.50,233.85 172.00,233.85 172.50,233.85 173.00,233.84 173.50,233.84 174.00,233.83 174.50,233.83 175.00,233.82 175.50,233.81 176.00,233.81 176.50,233.80 177.00,233.80 177.50,233.79 178.00,233.78 178.50,233.78 179.00,233.77 179.50,233.77 180.00,233.76 180.50,233.75 181.00,233.75 181.50,233.74 182.00,233.73 182.50,233.73 183.00,233.72 183.50,233.71 184.00,233.70 184.50,233.70 185.00,233.69 185.50,233.68 186.00,233.68 186.50,233.67 187.00,233.66 187.50,233.65 188.00,233.65 188.50,233.64 189.00,233.63 189.50,233.62 190.00,233.61 190.50,233.61 191.00,233.60 191.50,233.59 192.00,233.58 192.50,233.57 193.00,233.56 193.50,233.56 194.00,233.55 194.50,233.54 195.00,233.53 195.50,233.52 196.00,233.51 196.50,233.50 197.00,233.49 197.50,233.48 198.00,233.48 198.50,233.47 199.00,233.46 199.50,233.45 200.00,233.44 200.50,233.43 201.00,233.42 201.50,233.41 202.00,233.40 202.50,233.39 203.00,233.38 203.50,233.37 204.00,233.36 204.50,233.35 205.00,233.34 205.50,233.33 206.00,233.31 206.50,233.30 207.00,233.29 207.50,233.28 208.00,233.27 208.50,233.26 209.00,233.25 209.50,233.24 210.00,233.22 210.50,233.21 211.00,233.20 211.50,233.19 212.00,233.18 212.50,233.16 213.00,233.15 213.50,233.14 214.00,233.13 214.50,233.11 215.00,233.10 215.50,233.09 216.00,233.07 216.50,233.06 217.00,233.05 217.50,233.03 218.00,233.02 218.50,233.01 219.00,232.99 219.50,232.98 220.00,232.96 220.50,232.95 221.00,232.93 221.50,232.92 222.00,232.90 222.50,232.89 223.00,232.87 223.50,232.86 224.00,232.84 224.50,232.82 225.00,232.81 225.50,232.79 226.00,232.78 226.50,232.76 227.00,232.74 227.50,232.72 228.00,232.71 228.50,232.69 229.00,232.67 229.50,232.65 230.00,232.63 230.50,232.62 231.00,232.60 231.50,232.58 232.00,232.56 232.50,232.54 233.00,232.52 233.50,232.50 234.00,232.48 234.50,232.46 235.00,232.44 235.50,232.42 236.00,232.39 236.50,232.37 237.00,232.35 237.50,232.33 238.00,232.30 238.50,232.28 239.00,232.26 239.50,232.23 240.00,232.21 240.50,232.19 241.00,232.16 241.50,232.14 242.00,232.11 242.50,232.08 243.00,232.06 243.50,232.03 244.00,232.00 244.50,231.98 245.00,231.95 245.50,231.92 246.00,231.89 246.50,231.86 247.00,231.83 247.50,231.80 248.00,231.77 248.50,231.74 249.00,231.71 249.50,231.68 250.00,231.64 250.50,231.61 251.00,231.57 251.50,231.54 252.00,231.50 252.50,231.47 253.00,231.43 253.50,231.39 254.00,231.36 254.50,231.32 255.00,231.28 255.50,231.24 256.00,231.20 256.50,231.15 257.00,231.11 257.50,231.07 258.00,231.02 258.50,230.98 259.00,230.93 259.50,230.88 260.00,230.83 260.50,230.78 261.00,230.73 261.50,230.68 262.00,230.62 262.50,230.57 263.00,230.51 263.50,230.45 264.00,230.39 264.50,230.33 265.00,230.26 265.50,230.20 266.00,230.13 266.50,230.06 267.00,229.99 267.50,229.91 268.00,229.83 268.50,229.75 269.00,229.67 269.50,229.58 270.00,229.49 270.50,229.40 271.00,229.30 271.50,229.20 272.00,229.09 272.50,228.98 273.00,228.86 273.50,228.74 274.00,228.61 274.50,228.47 275.00,228.33 275.50,228.18 276.00,228.02 276.50,227.85 277.00,227.67 277.50,227.48 278.00,227.28 278.50,227.06 279.00,226.83 279.50,226.59 280.00,226.33 280.50,226.06 281.00,225.76 281.50,225.44 282.00,225.10 282.50,224.74 283.00,224.34 283.50,223.92 284.00,223.47 284.50,222.98 285.00,222.45 285.50,221.89 286.00,221.28 286.50,220.62 287.00,219.90 287.50,219.14 288.00,218.31 288.50,217.41 289.00,216.45 289.50,215.41 290.00,214.29 290.50,213.08 291.00,211.78 291.50,210.38 292.00,208.87 292.50,207.26 293.00,205.53 293.50,203.67 294.00,201.69 294.50,199.58 295.00,197.33 295.50,194.94 296.00,192.41 296.50,189.74 297.00,186.92 297.50,183.96 298.00,180.87 298.50,177.64 299.00,174.28 299.50,170.80 300.00,167.20 300.50,163.50 301.00,159.71 301.50,155.84 302.00,151.90 302.50,147.91 303.00,143.87 303.50,139.79 304.00,135.70 304.50,131.68 305.00,127.84 305.50,124.00 306.00,120.19 306.50,116.41 307.00,112.66 307.50,108.97 308.00,105.33 308.50,101.76 309.00,98.26 309.50,94.86 310.00,91.54 310.50,88.33 311.00,85.23 311.50,82.24 312.00,79.37 312.50,76.62 313.00,74.00 313.50,71.50 314.00,69.13 314.50,66.88 315.00,64.75 315.50,62.74 316.00,60.85 316.50,59.08 317.00,57.41 317.50,55.84 318.00,54.38 318.50,53.01 319.00,51.73 319.50,50.53 320.00,49.42 320.50,48.38 321.00,47.41 321.50,46.51 322.00,45.67 322.50,44.89 323.00,44.16 323.50,43.49 324.00,42.86 324.50,42.28 325.00,41.73 325.50,41.23 326.00,40.76 326.50,40.32 327.00,39.91 327.50,39.53 328.00,39.18 328.50,38.85 329.00,38.54 329.50,38.25 330.00,37.99 330.50,37.74 331.00,37.50 331.50,37.28 332.00,37.07 332.50,36.88 333.00,36.70 333.50,36.53 334.00,36.37 334.50,36.22 335.00,36.08 335.50,35.94 336.00,35.81 336.50,35.69 337.00,35.58 337.50,35.47 338.00,35.37 338.50,35.27 339.00,35.18 339.50,35.09 340.00,35.01 340.50,34.93 341.00,34.85 341.50,34.78 342.00,34.71 342.50,34.64 343.00,34.58 343.50,34.52 344.00,34.46 344.50,34.40 345.00,34.34 345.50,34.29 346.00,34.24 346.50,34.19 347.00,34.14 347.50,34.09 348.00,34.05 348.50,34.00 349.00,33.96 349.50,33.92 350.00,33.88 350.50,33.84 351.00,33.80 351.50,33.76 352.00,33.73 352.50,33.69 353.00,33.66 353.50,33.63 354.00,33.59 354.50,33.56 355.00,33.53 355.50,33.50 356.00,33.47 356.50,33.44 357.00,33.41 357.50,33.38 358.00,33.35 358.50,33.33 359.00,33.30 359.50,33.27 360.00,33.25 360.50,33.22 361.00,33.20 361.50,33.17 362.00,33.15 362.50,33.13 363.00,33.10 363.50,33.08 364.00,33.06 364.50,33.04 365.00,33.02 365.50,33.00 366.00,32.97 366.50,32.95 367.00,32.93 367.50,32.91 368.00,32.89 368.50,32.88 369.00,32.86 369.50,32.84 370.00,32.82 370.50,32.80 371.00,32.78 371.50,32.77 372.00,32.75 372.50,32.73 373.00,32.71 373.50,32.70 374.00,32.68 374.50,32.66 375.00,32.65 375.50,32.63 376.00,32.62 376.50,32.60 377.00,32.59 377.50,32.57 378.00,32.56 378.50,32.54 379.00,32.53 379.50,32.51 380.00,32.50 380.50,32.49 381.00,32.47 381.50,32.46 382.00,32.45 382.50,32.43 383.00,32.42 383.50,32.41 384.00,32.39 384.50,32.38 385.00,32.37 385.50,32.36 386.00,32.34 386.50,32.33" fill="none" stroke="#00ffff" stroke-width="1.85" stroke-linejoin="round"/>
<polyline points="61.50,223.24 62.00,223.24 62.50,223.24 63.00,223.24 63.50,223.24 64.00,223.23 64.50,223.23 65.00,223.23 65.50,223.23 66.00,223.23 66.50,223.22 67.00,223.22 67.50,223.22 68.00,223.22 68.50,223.22 69.00,223.22 69.50,223.21 70.00,223.21 70.50,223.21 71.00,223.21 71.50,223.21 72.00,223.21 72.50,223.20 73.00,223.20 73.50,223.20 74.00,223.20 74.50,223.20 75.00,223.19 75.50,223.19 76.00,223.19 76.50,223.19 77.00,223.19 77.50,223.19 78.00,223.18 78.50,223.18 79.00,223.18 79.50,223.18 80.00,223.18 80.50,223.18 81.00,223.17 81.50,223.17 82.00,223.17 82.50,223.17 83.00,223.17 83.50,223.17 84.00,223.17 84.50,223.17 85.00,223.16 85.50,223.16 86.00,223.16 86.50,223.16 87.00,223.16 87.50,223.16 88.00,223.16 88.50,223.16 89.00,223.16 89.50,223.16 90.00,223.16 90.50,223.16 91.00,223.16 91.50,223.16 92.00,223.16 92.50,223.17 93.00,223.17 93.50,223.17 94.00,223.17 94.50,223.18 95.00,223.18 95.50,223.18 96.00,223.19 96.50,223.19 97.00,223.20 97.50,223.21 98.00,223.21 98.50,223.22 99.00,223.23 99.50,223.24 100.00,223.25 100.50,223.26 101.00,223.28 101.50,223.29 102.00,223.31 102.50,223.32 103.00,223.34 103.50,223.36 104.00,223.39 104.50,223.41 105.00,223.44 105.50,223.47 106.00,223.50 106.50,223.53 107.00,223.57 107.50,223.61 108.00,223.65 108.50,223.70 109.00,223.75 109.50,223.81 110.00,223.87 110.50,223.93 111.00,224.00 111.50,224.08 112.00,224.16 112.50,224.24 113.00,224.33 113.50,224.43 114.00,224.53 114.50,224.64 115.00,224.76 115.50,224.89 116.00,225.02 116.50,225.16 117.00,225.30 117.50,225.46 118.00,225.62 118.50,225.79 119.00,225.96 119.50,226.15 120.00,226.34 120.50,226.54 121.00,226.74 121.50,226.95 122.00,227.16 122.50,227.38 123.00,227.61 123.50,227.83 124.00,228.06 124.50,228.30 125.00,228.53 125.50,228.72 126.00,228.88 126.50,229.03 127.00,229.19 127.50,229.34 128.00,229.50 128.50,229.65 129.00,229.80 129.50,229.95 130.00,230.10 130.50,230.24 131.00,230.38 131.50,230.52 132.00,230.66 132.50,230.79 133.00,230.92 133.50,231.05 134.00,231.18 134.50,231.30 135.00,231.42 135.50,231.53 136.00,231.64 136.50,231.75 137.00,231.86 137.50,231.96 138.00,232.05 138.50,232.15 139.00,232.24 139.50,232.33 140.00,232.41 140.50,232.49 141.00,232.57 141.50,232.64 142.00,232.71 142.50,232.78 143.00,232.84 143.50,232.91 144.00,232.97 144.50,233.02 145.00,233.08 145.50,233.13 146.00,233.18 146.50,233.22 147.00,233.27 147.50,233.31 148.00,233.35 148.50,233.38 149.00,233.42 149.50,233.45 150.00,233.48 150.50,233.51 151.00,233.54 151.50,233.57 152.00,233.59 152.50,233.62 153.00,233.64 153.50,233.66 154.00,233.68 154.50,233.70 155.00,233.71 155.50,233.73 156.00,233.75 156.50,233.76 157.00,233.77 157.50,233.78 158.00,233.79 158.50,233.80 159.00,233.81 159.50,233.82 160.00,233.83 160.50,233.84 161.00,233.84 161.50,233.85 162.00,233.85 162.50,233.86 163.00,233.86 163.50,233.87 164.00,233.87 164.50,233.87 165.00,233.87 165.50,233.87 166.00,233.88 166.50,233.88 167.00,233.88 167.50,233.88 168.00,233.88 168.50,233.88 169.00,233.87 169.50,233.87 170.00,233.87 170.50,233.87 171.00,233.87 171.50,233.87 172.00,233.86 172.50,233.86 173.00,233.86 173.50,233.85 174.00,233.85 174.50,233.85 175.00,233.84 175.50,233.84 176.00,233.84 176.50,233.83 177.00,233.83 177.50,233.82 178.00,233.82 178.50,233.81 179.00,233.81 179.50,233.80 180.00,233.80 180.50,233.79 181.00,233.79 181.50,233.78 182.00,233.77 182.50,233.77 183.00,233.76 183.50,233.76 184.00,233.75 184.50,233.74 185.00,233.74 185.50,233.73 186.00,233.72 186.50,233.72 187.00,233.71 187.50,233.70 188.00,233.70 188.50,233.69 189.00,233.68 189.50,233.67 190.00,233.67 190.50,233.66 191.00,233.65 191.50,233.64 192.00,233.64 192.50,233.63 193.00,233.62 193.50,233.61 194.00,233.60 194.50,233.59 195.00,233.59 195.50,233.58 196.00,233.57 196.50,233.56 197.00,233.55 197.50,233.54 198.00,233.53 198.50,233.52 199.00,233.52 199.50,233.51 200.00,233.50 200.50,233.49 201.00,233.48 201.50,233.47 202.00,233.46 202.50,233.45 203.00,233.44 203.50,233.43 204.00,233.42 204.50,233.41 205.00,233.40 205.50,233.39 206.00,233.38 206.50,233.37 207.00,233.36 207.50,233.34 208.00,233.33 208.50,233.32 209.00,233.31 209.50,233.30 210.00,233.29 210.50,233.28 211.00,233.26 211.50,233.25 212.00,233.24 212.50,233.23 213.00,233.22 213.50,233.20 214.00,233.19 214.50,233.18 215.00,233.17 215.50,233.15 216.00,233.14 216.50,233.13 217.00,233.11 217.50,233.10 218.00,233.08 218.50,233.07 219.00,233.06 219.50,233.04 220.00,233.03 220.50,233.01 221.00,233.00 221.50,232.98 222.00,232.97 222.50,232.95 223.00,232.94 223.50,232.92 224.00,232.91 224.50,232.89 225.00,232.87 225.50,232.86 226.00,232.84 226.50,232.82 227.00,232.81 227.50,232.79 228.00,232.77 228.50,232.76 229.00,232.74 229.50,232.72 230.00,232.70 230.50,232.68 231.00,232.66 231.50,232.64 232.00,232.62 232.50,232.61 233.00,232.59 233.50,232.57 234.00,232.54 234.50,232.52 235.00,232.50 235.50,232.48 236.00,232.46 236.50,232.44 237.00,232.42 237.50,232.39 238.00,232.37 238.50,232.35 239.00,232.32 239.50,232.30 240.00,232.27 240.50,232.25 241.00,232.23 241.50,232.20 242.00,232.17 242.50,232.15 243.00,232.12 243.50,232.09 244.00,232.07 244.50,232.04 245.00,232.01 245.50,231.98 246.00,231.95 246.50,231.92 247.00,231.89 247.50,231.86 248.00,231.83 248.50,231.79 249.00,231.76 249.50,231.73 250.00,231.69 250.50,231.66 251.00,231.62 251.50,231.59 252.00,231.55 252.50,231.51 253.00,231.47 253.50,231.43 254.00,231.39 254.50,231.35 255.00,231.31 255.50,231.27 256.00,231.22 256.50,231.17 257.00,231.13 257.50,231.08 258.00,231.03 258.50,230.98 259.00,230.93 259.50,230.87 260.00,230.82 260.50,230.76 261.00,230.70 261.50,230.64 262.00,230.58 262.50,230.51 263.00,230.45 263.50,230.38 264.00,230.30 264.50,230.23 265.00,230.15 265.50,230.07 266.00,229.98 266.50,229.89 267.00,229.80 267.50,229.70 268.00,229.60 268.50,229.50 269.00,229.39 269.50,229.27 270.00,229.15 270.50,229.02 271.00,228.88 271.50,228.74 272.00,228.58 272.50,228.42 273.00,228.25 273.50,228.07 274.00,227.88 274.50,227.68 275.00,227.46 275.50,227.23 276.00,226.99 276.50,226.72 277.00,226.44 277.50,226.15 278.00,225.83 278.50,225.48 279.00,225.12 279.50,224.73 280.00,224.30 280.50,223.85 281.00,223.37 281.50,222.85 282.00,222.29 282.50,221.69 283.00,221.04 283.50,220.35 284.00,219.61 284.50,218.80 285.00,217.94 285.50,217.02 286.00,216.03 286.50,214.96 287.00,213.81 287.50,212.59 288.00,211.27 288.50,209.86 289.00,208.36 289.50,206.75 290.00,205.03 290.50,203.20 291.00,201.25 291.50,199.18 292.00,196.98 292.50,194.66 293.00,192.20 293.50,189.61 294.00,186.89 294.50,184.04 295.00,181.05 295.50,177.94 296.00,174.70 296.50,171.35 297.00,167.88 297.50,164.31 298.00,160.64 298.50,156.89 299.00,153.05 299.50,149.15 300.00,145.20 300.50,141.19 301.00,137.15 301.50,133.09 302.00,129.01 302.50,124.82 303.00,120.57 303.50,116.34 304.00,112.14 304.50,107.99 305.00,103.90 305.50,99.87 306.00,95.93 306.50,92.08 307.00,88.32 307.50,84.68 308.00,81.15 308.50,77.74 309.00,74.46 309.50,71.32 310.00,68.30 310.50,65.43 311.00,62.69 311.50,60.09 312.00,57.62 312.50,55.29 313.00,53.09 313.50,51.02 314.00,49.06 314.50,47.23 315.00,45.51 315.50,43.90 316.00,42.40 316.50,40.99 317.00,39.68 317.50,38.46 318.00,37.32 318.50,36.26 319.00,35.27 319.50,34.35 320.00,33.50 320.50,32.70 321.00,31.97 321.50,31.28 322.00,30.65 322.50,30.06 323.00,29.52 323.50,29.01 324.00,28.54 324.50,28.10 325.00,27.70 325.50,27.32 326.00,26.97 326.50,26.65 327.00,26.34 327.50,26.06 328.00,25.80 328.50,25.56 329.00,25.34 329.50,25.12 330.00,24.93 330.50,24.75 331.00,24.58 331.50,24.42 332.00,24.27 332.50,24.13 333.00,24.00 333.50,23.88 334.00,23.76 334.50,23.65 335.00,23.55 335.50,23.46 336.00,23.37 336.50,23.28 337.00,23.20 337.50,23.13 338.00,23.06 338.50,22.99 339.00,22.93 339.50,22.86 340.00,22.81 340.50,22.75 341.00,22.70 341.50,22.65 342.00,22.60 342.50,22.56 343.00,22.51 343.50,22.47 344.00,22.43 344.50,22.39 345.00,22.36 345.50,22.32 346.00,22.29 346.50,22.26 347.00,22.22 347.50,22.19 348.00,22.16 348.50,22.13 349.00,22.11 349.50,22.08 350.00,22.05 350.50,22.03 351.00,22.00 351.50,21.98 352.00,21.96 352.50,21.93 353.00,21.91 353.50,21.89 354.00,21.87 354.50,21.85 355.00,21.83 355.50,21.81 356.00,21.79 356.50,21.77 357.00,21.75 357.50,21.73 358.00,21.72 358.50,21.70 359.00,21.68 359.50,21.67 360.00,21.65 360.50,21.63 361.00,21.62 361.50,21.60 362.00,21.59 362.50,21.57 363.00,21.56 363.50,21.54 364.00,21.53 364.50,21.52 365.00,21.50 365.50,21.49 366.00,21.48 366.50,21.46 367.00,21.45 367.50,21.44 368.00,21.43 368.50,21.41 369.00,21.40 369.50,21.39 370.00,21.38 370.50,21.37 371.00,21.35 371.50,21.34 372.00,21.33 372.50,21.32 373.00,21.31 373.50,21.30 374.00,21.29 374.50,21.28 375.00,21.27 375.50,21.26 376.00,21.25 376.50,21.24 377.00,21.23 377.50,21.22 378.00,21.21 378.50,21.20 379.00,21.19 379.50,21.18 380.00,21.17 380.50,21.16 381.00,21.16 381.50,21.15 382.00,21.14 382.50,21.13 383.00,21.12 383.50,21.11 384.00,21.11 384.50,21.10 385.00,21.09 385.50,21.08 386.00,21.07 386.50,21.07" fill="none" stroke="#ffa500" stroke-width="1.85" stroke-linejoin="round"/>
</g>
<line x1="191.5" y1="6.95" x2="191.5" y2="235.75" stroke="#000" stroke-width="0.9" stroke-dasharray="3.8,2.116"/>
<rect x="61.5" y="7.45" width="325.0" height="228.3" fill="none" stroke="#000" stroke-width="1.05"/>
<g stroke="#000" stroke-width="1">
<line x1="56.10" y1="235.75" x2="61.50" y2="235.75"/>
<line x1="57.70" y1="212.92" x2="61.50" y2="212.92"/>
<line x1="57.70" y1="190.09" x2="61.50" y2="190.09"/>
<line x1="57.70" y1="167.26" x2="61.50" y2="167.26"/>
<line x1="57.70" y1="144.43" x2="61.50" y2="144.43"/>
<line x1="56.10" y1="121.60" x2="61.50" y2="121.60"/>
<line x1="57.70" y1="98.77" x2="61.50" y2="98.77"/>
<line x1="57.70" y1="75.94" x2="61.50" y2="75.94"/>
<line x1="57.70" y1="53.11" x2="61.50" y2="53.11"/>
<line x1="57.70" y1="30.28" x2="61.50" y2="30.28"/>
<line x1="56.10" y1="7.45" x2="61.50" y2="7.45"/>
<line x1="61.50" y1="235.75" x2="61.50" y2="240.75"/>
<line x1="74.50" y1="235.75" x2="74.50" y2="238.55"/>
<line x1="87.50" y1="235.75" x2="87.50" y2="238.55"/>
<line x1="100.50" y1="235.75" x2="100.50" y2="238.55"/>
<line x1="113.50" y1="235.75" x2="113.50" y2="238.55"/>
<line x1="126.50" y1="235.75" x2="126.50" y2="240.75"/>
<line x1="139.50" y1="235.75" x2="139.50" y2="238.55"/>
<line x1="152.50" y1="235.75" x2="152.50" y2="238.55"/>
<line x1="165.50" y1="235.75" x2="165.50" y2="238.55"/>
<line x1="178.50" y1="235.75" x2="178.50" y2="238.55"/>
<line x1="191.50" y1="235.75" x2="191.50" y2="240.75"/>
<line x1="204.50" y1="235.75" x2="204.50" y2="238.55"/>
<line x1="217.50" y1="235.75" x2="217.50" y2="238.55"/>
<line x1="230.50" y1="235.75" x2="230.50" y2="238.55"/>
<line x1="243.50" y1="235.75" x2="243.50" y2="238.55"/>
<line x1="256.50" y1="235.75" x2="256.50" y2="240.75"/>
<line x1="269.50" y1="235.75" x2="269.50" y2="238.55"/>
<line x1="282.50" y1="235.75" x2="282.50" y2="238.55"/>
<line x1="295.50" y1="235.75" x2="295.50" y2="238.55"/>
<line x1="308.50" y1="235.75" x2="308.50" y2="238.55"/>
<line x1="321.50" y1="235.75" x2="321.50" y2="240.75"/>
<line x1="334.50" y1="235.75" x2="334.50" y2="238.55"/>
<line x1="347.50" y1="235.75" x2="347.50" y2="238.55"/>
<line x1="360.50" y1="235.75" x2="360.50" y2="238.55"/>
<line x1="373.50" y1="235.75" x2="373.50" y2="238.55"/>
<line x1="386.50" y1="235.75" x2="386.50" y2="240.75"/>
</g>
<rect x="198.6" y="94.9" width="87.3" height="104.7" fill="#fff" stroke="#000" stroke-width="1.1"/>
<line x1="203" y1="104.90" x2="226.4" y2="104.90" stroke="#ff0000" stroke-width="1.8"/>
<text y="111.50" class="l"><tspan x="233.1" style="font-size:19.5px">δ</tspan><tspan x="251.95">0.5</tspan></text>
<path d="M241.60 105.45H251.20M241.60 108.75H251.20" stroke="#000" stroke-width="1.05" fill="none"/>
<line x1="203" y1="122.17" x2="226.4" y2="122.17" stroke="#00ff00" stroke-width="1.8"/>
<text y="128.77" class="l"><tspan x="233.1" style="font-size:19.5px">δ</tspan><tspan x="251.95">0.4</tspan></text>
<path d="M241.60 122.72H251.20M241.60 126.02H251.20" stroke="#000" stroke-width="1.05" fill="none"/>
<line x1="203" y1="139.44" x2="226.4" y2="139.44" stroke="#0000ff" stroke-width="1.8"/>
<text y="146.04" class="l"><tspan x="233.1" style="font-size:19.5px">δ</tspan><tspan x="251.95">0.3</tspan></text>
<path d="M241.60 139.99H251.20M241.60 143.29H251.20" stroke="#000" stroke-width="1.05" fill="none"/>
<line x1="203" y1="156.71" x2="226.4" y2="156.71" stroke="#ff00ff" stroke-width="1.8"/>
<text y="163.31" class="l"><tspan x="233.1" style="font-size:19.5px">δ</tspan><tspan x="251.95">0.2</tspan></text>
<path d="M241.60 157.26H251.20M241.60 160.56H251.20" stroke="#000" stroke-width="1.05" fill="none"/>
<line x1="203" y1="173.98" x2="226.4" y2="173.98" stroke="#00ffff" stroke-width="1.8"/>
<text y="180.58" class="l"><tspan x="233.1" style="font-size:19.5px">δ</tspan><tspan x="251.95">0.1</tspan></text>
<path d="M241.60 174.53H251.20M241.60 177.83H251.20" stroke="#000" stroke-width="1.05" fill="none"/>
<line x1="203" y1="191.25" x2="226.4" y2="191.25" stroke="#ffa500" stroke-width="1.8"/>
<text y="197.85" class="l"><tspan x="233.1" style="font-size:19.5px">δ</tspan><tspan x="251.95">0.05</tspan></text>
<path d="M241.60 191.80H251.20M241.60 195.10H251.20" stroke="#000" stroke-width="1.05" fill="none"/>
<text x="9.3" y="13.6" class="a" style="font-size:18.3px">(b)</text>
<text x="53.7" y="14" class="a" text-anchor="end">1</text>
<text x="53.7" y="128" class="a" text-anchor="end">0.5</text>
<text x="53.7" y="242" class="a" text-anchor="end">0</text>
<text transform="translate(24.1,121.4) rotate(-90)" class="a i" text-anchor="middle">n</text>
<text x="61.9" y="257.6" class="a" text-anchor="middle">-2</text>
<text x="127.7" y="257.6" class="a i" text-anchor="middle">-1</text>
<text x="191.3" y="257.6" class="a i" text-anchor="middle">0</text>
<text x="258" y="257.6" class="a i" text-anchor="middle">1</text>
<text x="321.6" y="257.6" class="a i" text-anchor="middle">2</text>
<text x="387" y="257.6" class="a i" text-anchor="middle">3</text>
<text x="209.3" y="275.3" class="a"><tspan class="i">V</tspan>/V</text>
<text y="23.6" class="t"><tspan x="213.4">ε</tspan><tspan x="221.8" dy="8" class="i" style="font-size:13.8px">0</tspan><tspan x="240.1" dy="-8" class="i">0.5</tspan><tspan x="266.5">eV</tspan></text>
<path d="M228.90 17.55H238.10M228.90 20.85H238.10" stroke="#000" stroke-width="1.05" fill="none"/>
<text y="45.6" class="t"><tspan x="208">Γ</tspan><tspan x="230" class="i">20</tspan><tspan x="253.3">meV</tspan></text>
<path d="M219.40 39.55H228.40M219.40 42.85H228.40" stroke="#000" stroke-width="1.05" fill="none"/>
<text y="67.9" class="t"><tspan x="195.6">γ</tspan><tspan x="212.2">0.2</tspan><tspan x="235.5">;</tspan><tspan x="244.6" textLength="9.8" lengthAdjust="spacingAndGlyphs">λ</tspan><tspan x="263.7">0.2</tspan><tspan x="290.5">eV</tspan></text>
<path d="M203.20 61.85H212.10M203.20 65.15H212.10" stroke="#000" stroke-width="1.05" fill="none"/>
<path d="M254.30 61.85H263.20M254.30 65.15H263.20" stroke="#000" stroke-width="1.05" fill="none"/>
</svg>
</body></html>
